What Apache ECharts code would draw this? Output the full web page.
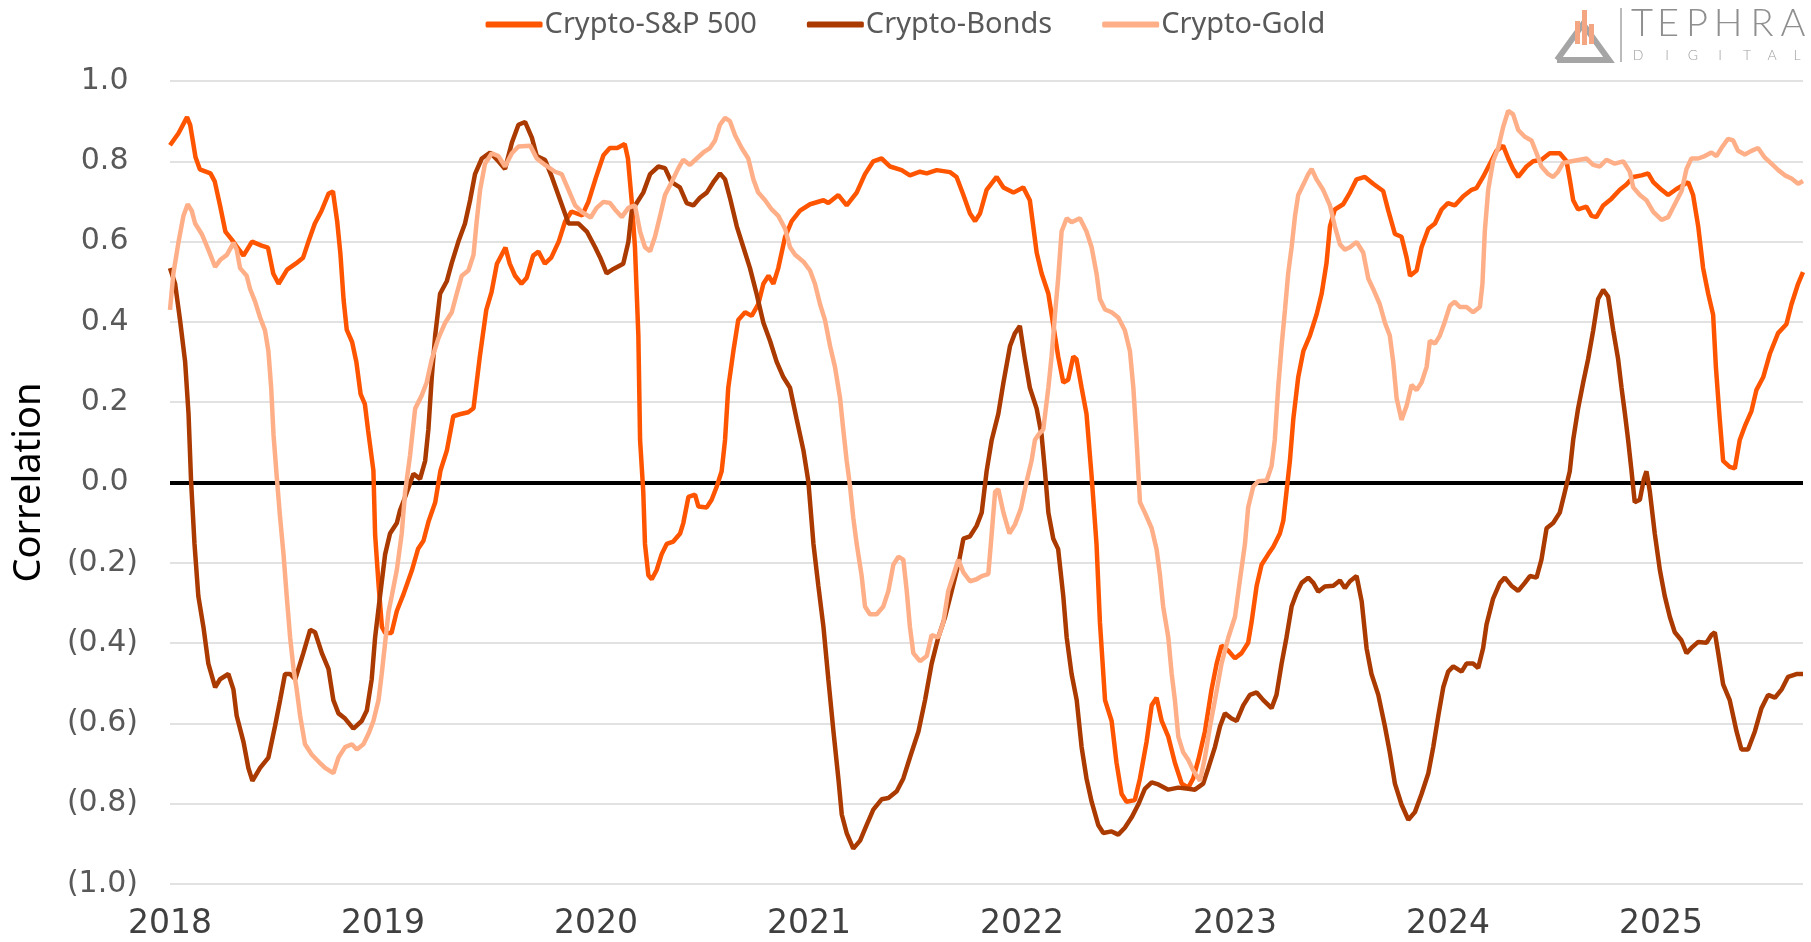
<!DOCTYPE html>
<html>
<head>
<meta charset="utf-8">
<script src="https://cdn.jsdelivr.net/npm/echarts@6/dist/echarts.min.js"></script>
<style>
  html, body { margin: 0; padding: 0; background: #fff; }
  #chart { width: 1811px; height: 942px; }
</style>
</head>
<body>
<div id="chart"></div>
<script>
// rolling correlations, x = decimal year
const spxT = [2018.00, 2018.04, 2018.08, 2018.095, 2018.12, 2018.14, 2018.19, 2018.21, 2018.235, 2018.26, 2018.29, 2018.31, 2018.345, 2018.385, 2018.43, 2018.46, 2018.485, 2018.51, 2018.55, 2018.59, 2018.625, 2018.65, 2018.68, 2018.71, 2018.745, 2018.765, 2018.785, 2018.80, 2018.815, 2018.83, 2018.855, 2018.875, 2018.895, 2018.915, 2018.93, 2018.955, 2018.963, 2018.98, 2018.995, 2019.01, 2019.04, 2019.065, 2019.095, 2019.135, 2019.165, 2019.19, 2019.215, 2019.245, 2019.27, 2019.30, 2019.33, 2019.36, 2019.40, 2019.425, 2019.455, 2019.485, 2019.51, 2019.535, 2019.575, 2019.595, 2019.62, 2019.65, 2019.675, 2019.705, 2019.73, 2019.76, 2019.79, 2019.825, 2019.855, 2019.885, 2019.935, 2019.965, 2020.00, 2020.035, 2020.065, 2020.10, 2020.135, 2020.15, 2020.168, 2020.183, 2020.199, 2020.207, 2020.222, 2020.23, 2020.246, 2020.262, 2020.285, 2020.308, 2020.332, 2020.363, 2020.395, 2020.41, 2020.434, 2020.465, 2020.481, 2020.52, 2020.543, 2020.567, 2020.59, 2020.606, 2020.621, 2020.645, 2020.668, 2020.70, 2020.731, 2020.762, 2020.786, 2020.81, 2020.833, 2020.856, 2020.888, 2020.919, 2020.958, 2021.005, 2021.068, 2021.091, 2021.138, 2021.177, 2021.224, 2021.263, 2021.302, 2021.341, 2021.381, 2021.435, 2021.474, 2021.521, 2021.553, 2021.60, 2021.662, 2021.693, 2021.725, 2021.756, 2021.78, 2021.803, 2021.834, 2021.881, 2021.913, 2021.96, 2022.006, 2022.037, 2022.053, 2022.069, 2022.092, 2022.124, 2022.147, 2022.17, 2022.194, 2022.217, 2022.241, 2022.256, 2022.28, 2022.303, 2022.327, 2022.35, 2022.366, 2022.39, 2022.421, 2022.444, 2022.468, 2022.491, 2022.53, 2022.554, 2022.585, 2022.609, 2022.632, 2022.656, 2022.687, 2022.718, 2022.75, 2022.781, 2022.804, 2022.828, 2022.859, 2022.89, 2022.914, 2022.937, 2022.969, 2023.00, 2023.031, 2023.062, 2023.078, 2023.102, 2023.125, 2023.156, 2023.18, 2023.211, 2023.227, 2023.242, 2023.258, 2023.274, 2023.297, 2023.321, 2023.352, 2023.383, 2023.407, 2023.43, 2023.446, 2023.469, 2023.508, 2023.54, 2023.571, 2023.61, 2023.649, 2023.696, 2023.72, 2023.751, 2023.782, 2023.806, 2023.822, 2023.853, 2023.876, 2023.908, 2023.939, 2023.97, 2024.00, 2024.032, 2024.072, 2024.111, 2024.134, 2024.165, 2024.197, 2024.228, 2024.259, 2024.283, 2024.306, 2024.33, 2024.369, 2024.40, 2024.439, 2024.478, 2024.525, 2024.557, 2024.572, 2024.588, 2024.611, 2024.65, 2024.674, 2024.697, 2024.729, 2024.768, 2024.807, 2024.838, 2024.87, 2024.909, 2024.94, 2024.964, 2025.003, 2025.034, 2025.073, 2025.128, 2025.151, 2025.175, 2025.198, 2025.222, 2025.245, 2025.258, 2025.276, 2025.292, 2025.323, 2025.347, 2025.37, 2025.393, 2025.425, 2025.448, 2025.48, 2025.511, 2025.55, 2025.589, 2025.613, 2025.644, 2025.667];
const spxV = [0.84, 0.87, 0.91, 0.89, 0.81, 0.78, 0.77, 0.75, 0.69, 0.625, 0.605, 0.59, 0.565, 0.60, 0.59, 0.585, 0.52, 0.495, 0.53, 0.545, 0.56, 0.60, 0.645, 0.675, 0.72, 0.725, 0.65, 0.57, 0.455, 0.38, 0.35, 0.30, 0.22, 0.195, 0.13, 0.03, -0.13, -0.26, -0.36, -0.375, -0.375, -0.32, -0.28, -0.22, -0.165, -0.145, -0.095, -0.05, 0.03, 0.08, 0.165, 0.17, 0.175, 0.185, 0.315, 0.43, 0.475, 0.545, 0.585, 0.545, 0.515, 0.495, 0.51, 0.565, 0.575, 0.545, 0.56, 0.60, 0.65, 0.675, 0.665, 0.70, 0.76, 0.815, 0.833, 0.833, 0.843, 0.807, 0.70, 0.586, 0.366, 0.106, -0.023, -0.153, -0.231, -0.241, -0.218, -0.179, -0.153, -0.147, -0.127, -0.101, -0.036, -0.03, -0.06, -0.062, -0.043, -0.01, 0.028, 0.106, 0.236, 0.327, 0.405, 0.424, 0.415, 0.444, 0.495, 0.515, 0.495, 0.534, 0.612, 0.651, 0.677, 0.693, 0.703, 0.696, 0.716, 0.69, 0.722, 0.768, 0.80, 0.807, 0.787, 0.778, 0.765, 0.774, 0.77, 0.778, 0.773, 0.761, 0.716, 0.67, 0.651, 0.67, 0.729, 0.761, 0.735, 0.722, 0.735, 0.703, 0.638, 0.573, 0.521, 0.47, 0.392, 0.314, 0.249, 0.256, 0.314, 0.307, 0.236, 0.171, 0.016, -0.153, -0.348, -0.542, -0.594, -0.698, -0.776, -0.795, -0.791, -0.737, -0.646, -0.555, -0.536, -0.594, -0.633, -0.698, -0.75, -0.76, -0.737, -0.691, -0.62, -0.516, -0.451, -0.406, -0.419, -0.438, -0.425, -0.399, -0.348, -0.257, -0.205, -0.179, -0.16, -0.127, -0.095, -0.023, 0.054, 0.158, 0.262, 0.327, 0.366, 0.418, 0.47, 0.547, 0.638, 0.68, 0.693, 0.722, 0.755, 0.761, 0.744, 0.726, 0.677, 0.619, 0.612, 0.56, 0.515, 0.528, 0.586, 0.632, 0.645, 0.68, 0.696, 0.69, 0.713, 0.729, 0.733, 0.761, 0.794, 0.826, 0.839, 0.807, 0.781, 0.761, 0.787, 0.80, 0.804, 0.82, 0.82, 0.80, 0.755, 0.703, 0.68, 0.687, 0.664, 0.661, 0.69, 0.707, 0.729, 0.742, 0.761, 0.765, 0.77, 0.748, 0.729, 0.716, 0.731, 0.748, 0.716, 0.638, 0.534, 0.47, 0.418, 0.288, 0.158, 0.054, 0.039, 0.035, 0.106, 0.139, 0.178, 0.23, 0.262, 0.32, 0.372, 0.394, 0.444, 0.495, 0.524];

const bondT = [2018.00, 2018.024, 2018.047, 2018.071, 2018.087, 2018.099, 2018.115, 2018.133, 2018.157, 2018.18, 2018.212, 2018.235, 2018.274, 2018.298, 2018.313, 2018.345, 2018.368, 2018.387, 2018.423, 2018.462, 2018.493, 2018.517, 2018.54, 2018.564, 2018.588, 2018.626, 2018.658, 2018.681, 2018.713, 2018.744, 2018.767, 2018.791, 2018.822, 2018.861, 2018.90, 2018.924, 2018.947, 2018.963, 2018.986, 2019.01, 2019.033, 2019.065, 2019.08, 2019.104, 2019.143, 2019.174, 2019.198, 2019.213, 2019.229, 2019.245, 2019.268, 2019.30, 2019.323, 2019.354, 2019.385, 2019.409, 2019.432, 2019.464, 2019.503, 2019.542, 2019.573, 2019.605, 2019.636, 2019.667, 2019.699, 2019.722, 2019.761, 2019.793, 2019.832, 2019.871, 2019.918, 2019.957, 2019.996, 2020.02, 2020.05, 2020.082, 2020.128, 2020.152, 2020.168, 2020.191, 2020.222, 2020.254, 2020.293, 2020.324, 2020.355, 2020.394, 2020.426, 2020.457, 2020.488, 2020.52, 2020.551, 2020.582, 2020.606, 2020.629, 2020.661, 2020.692, 2020.723, 2020.754, 2020.786, 2020.817, 2020.848, 2020.88, 2020.911, 2020.942, 2020.974, 2020.997, 2021.021, 2021.044, 2021.068, 2021.091, 2021.115, 2021.138, 2021.154, 2021.177, 2021.208, 2021.24, 2021.271, 2021.302, 2021.341, 2021.373, 2021.412, 2021.443, 2021.474, 2021.514, 2021.545, 2021.576, 2021.607, 2021.639, 2021.67, 2021.701, 2021.725, 2021.756, 2021.787, 2021.811, 2021.834, 2021.858, 2021.889, 2021.913, 2021.944, 2021.967, 2021.99, 2022.014, 2022.037, 2022.069, 2022.092, 2022.108, 2022.124, 2022.147, 2022.17, 2022.194, 2022.21, 2022.233, 2022.257, 2022.28, 2022.303, 2022.327, 2022.358, 2022.382, 2022.421, 2022.452, 2022.483, 2022.515, 2022.546, 2022.577, 2022.609, 2022.64, 2022.687, 2022.734, 2022.781, 2022.812, 2022.851, 2022.875, 2022.906, 2022.93, 2022.953, 2022.984, 2023.008, 2023.039, 2023.07, 2023.102, 2023.133, 2023.172, 2023.195, 2023.219, 2023.242, 2023.266, 2023.289, 2023.313, 2023.344, 2023.368, 2023.391, 2023.422, 2023.462, 2023.493, 2023.516, 2023.54, 2023.571, 2023.595, 2023.618, 2023.641, 2023.673, 2023.704, 2023.727, 2023.751, 2023.782, 2023.814, 2023.845, 2023.876, 2023.908, 2023.931, 2023.955, 2023.978, 2024.001, 2024.025, 2024.064, 2024.087, 2024.118, 2024.142, 2024.165, 2024.181, 2024.212, 2024.244, 2024.267, 2024.298, 2024.33, 2024.361, 2024.385, 2024.416, 2024.439, 2024.463, 2024.494, 2024.525, 2024.549, 2024.572, 2024.588, 2024.611, 2024.635, 2024.658, 2024.682, 2024.705, 2024.729, 2024.752, 2024.776, 2024.799, 2024.815, 2024.831, 2024.846, 2024.862, 2024.877, 2024.901, 2024.92, 2024.932, 2024.948, 2024.971, 2024.995, 2025.018, 2025.042, 2025.065, 2025.096, 2025.12, 2025.143, 2025.175, 2025.214, 2025.237, 2025.253, 2025.269, 2025.292, 2025.323, 2025.355, 2025.378, 2025.409, 2025.441, 2025.472, 2025.503, 2025.535, 2025.566, 2025.597, 2025.636, 2025.667];
const bondV = [0.534, 0.495, 0.405, 0.301, 0.171, 0.003, -0.153, -0.283, -0.36, -0.451, -0.51, -0.49, -0.477, -0.516, -0.581, -0.646, -0.711, -0.743, -0.711, -0.685, -0.607, -0.542, -0.477, -0.477, -0.49, -0.425, -0.367, -0.373, -0.425, -0.464, -0.542, -0.575, -0.588, -0.613, -0.594, -0.568, -0.49, -0.386, -0.283, -0.179, -0.127, -0.101, -0.069, -0.036, 0.022, 0.009, 0.054, 0.132, 0.262, 0.366, 0.47, 0.502, 0.547, 0.60, 0.645, 0.703, 0.768, 0.807, 0.822, 0.80, 0.781, 0.846, 0.891, 0.898, 0.859, 0.813, 0.803, 0.761, 0.703, 0.645, 0.645, 0.625, 0.586, 0.56, 0.521, 0.532, 0.545, 0.599, 0.677, 0.696, 0.722, 0.768, 0.787, 0.783, 0.748, 0.735, 0.696, 0.69, 0.709, 0.722, 0.748, 0.77, 0.755, 0.709, 0.638, 0.586, 0.534, 0.47, 0.398, 0.353, 0.301, 0.262, 0.236, 0.158, 0.08, 0.003, -0.153, -0.257, -0.36, -0.49, -0.62, -0.737, -0.827, -0.873, -0.912, -0.892, -0.853, -0.815, -0.789, -0.786, -0.769, -0.737, -0.685, -0.62, -0.542, -0.451, -0.386, -0.335, -0.27, -0.205, -0.14, -0.134, -0.108, -0.075, 0.028, 0.106, 0.171, 0.249, 0.34, 0.372, 0.39, 0.307, 0.236, 0.184, 0.119, 0.028, -0.075, -0.14, -0.166, -0.283, -0.386, -0.477, -0.542, -0.659, -0.737, -0.795, -0.853, -0.873, -0.869, -0.877, -0.86, -0.834, -0.802, -0.763, -0.747, -0.752, -0.765, -0.76, -0.763, -0.765, -0.75, -0.711, -0.659, -0.607, -0.575, -0.588, -0.594, -0.555, -0.529, -0.523, -0.542, -0.562, -0.529, -0.451, -0.386, -0.309, -0.276, -0.25, -0.237, -0.25, -0.272, -0.259, -0.257, -0.244, -0.263, -0.246, -0.233, -0.296, -0.413, -0.477, -0.529, -0.607, -0.672, -0.75, -0.802, -0.84, -0.821, -0.776, -0.724, -0.659, -0.58, -0.51, -0.471, -0.458, -0.471, -0.451, -0.451, -0.462, -0.413, -0.354, -0.289, -0.25, -0.237, -0.257, -0.27, -0.25, -0.233, -0.237, -0.192, -0.114, -0.101, -0.075, -0.023, 0.028, 0.106, 0.184, 0.249, 0.307, 0.379, 0.457, 0.48, 0.463, 0.379, 0.307, 0.236, 0.171, 0.106, 0.028, -0.049, -0.043, 0.009, 0.028, -0.023, -0.127, -0.218, -0.283, -0.335, -0.373, -0.393, -0.425, -0.412, -0.397, -0.399, -0.38, -0.373, -0.425, -0.503, -0.542, -0.62, -0.665, -0.665, -0.62, -0.562, -0.529, -0.536, -0.516, -0.484, -0.477, -0.477];

const goldT = [2018.00, 2018.016, 2018.04, 2018.063, 2018.083, 2018.102, 2018.118, 2018.149, 2018.18, 2018.212, 2018.235, 2018.267, 2018.298, 2018.313, 2018.329, 2018.36, 2018.376, 2018.40, 2018.423, 2018.446, 2018.462, 2018.475, 2018.486, 2018.501, 2018.517, 2018.533, 2018.548, 2018.564, 2018.58, 2018.595, 2018.611, 2018.634, 2018.666, 2018.697, 2018.728, 2018.767, 2018.791, 2018.822, 2018.854, 2018.877, 2018.908, 2018.932, 2018.955, 2018.979, 2018.994, 2019.01, 2019.026, 2019.041, 2019.065, 2019.088, 2019.104, 2019.127, 2019.151, 2019.182, 2019.205, 2019.229, 2019.26, 2019.292, 2019.323, 2019.346, 2019.37, 2019.401, 2019.425, 2019.44, 2019.456, 2019.479, 2019.511, 2019.542, 2019.573, 2019.605, 2019.636, 2019.691, 2019.722, 2019.761, 2019.808, 2019.839, 2019.871, 2019.902, 2019.933, 2019.975, 2020.003, 2020.035, 2020.066, 2020.089, 2020.121, 2020.152, 2020.183, 2020.207, 2020.23, 2020.254, 2020.277, 2020.301, 2020.324, 2020.355, 2020.387, 2020.41, 2020.441, 2020.473, 2020.504, 2020.535, 2020.559, 2020.582, 2020.606, 2020.629, 2020.653, 2020.684, 2020.715, 2020.739, 2020.762, 2020.794, 2020.825, 2020.856, 2020.888, 2020.911, 2020.935, 2020.974, 2021.005, 2021.028, 2021.052, 2021.075, 2021.099, 2021.122, 2021.146, 2021.161, 2021.177, 2021.193, 2021.208, 2021.224, 2021.247, 2021.263, 2021.286, 2021.318, 2021.349, 2021.373, 2021.396, 2021.42, 2021.443, 2021.459, 2021.474, 2021.49, 2021.521, 2021.553, 2021.576, 2021.607, 2021.631, 2021.654, 2021.678, 2021.701, 2021.725, 2021.756, 2021.787, 2021.811, 2021.842, 2021.858, 2021.874, 2021.889, 2021.913, 2021.941, 2021.967, 2021.995, 2022.022, 2022.045, 2022.061, 2022.077, 2022.10, 2022.124, 2022.139, 2022.155, 2022.17, 2022.186, 2022.21, 2022.233, 2022.272, 2022.303, 2022.327, 2022.35, 2022.366, 2022.39, 2022.421, 2022.452, 2022.483, 2022.507, 2022.523, 2022.538, 2022.554, 2022.577, 2022.609, 2022.632, 2022.648, 2022.663, 2022.687, 2022.703, 2022.718, 2022.734, 2022.757, 2022.781, 2022.804, 2022.836, 2022.859, 2022.883, 2022.906, 2022.937, 2022.969, 2023.00, 2023.023, 2023.047, 2023.062, 2023.086, 2023.109, 2023.149, 2023.172, 2023.187, 2023.203, 2023.219, 2023.235, 2023.25, 2023.266, 2023.282, 2023.297, 2023.321, 2023.344, 2023.36, 2023.383, 2023.414, 2023.446, 2023.469, 2023.493, 2023.516, 2023.54, 2023.571, 2023.602, 2023.626, 2023.649, 2023.68, 2023.704, 2023.727, 2023.743, 2023.759, 2023.782, 2023.806, 2023.829, 2023.853, 2023.876, 2023.90, 2023.915, 2023.939, 2023.962, 2023.985, 2024.009, 2024.032, 2024.056, 2024.087, 2024.118, 2024.15, 2024.162, 2024.173, 2024.189, 2024.212, 2024.236, 2024.259, 2024.283, 2024.306, 2024.33, 2024.361, 2024.392, 2024.416, 2024.439, 2024.471, 2024.494, 2024.517, 2024.541, 2024.58, 2024.619, 2024.65, 2024.682, 2024.713, 2024.744, 2024.783, 2024.823, 2024.854, 2024.87, 2024.901, 2024.932, 2024.964, 2025.003, 2025.034, 2025.065, 2025.097, 2025.12, 2025.143, 2025.175, 2025.206, 2025.237, 2025.261, 2025.284, 2025.315, 2025.339, 2025.362, 2025.394, 2025.425, 2025.456, 2025.488, 2025.519, 2025.551, 2025.582, 2025.613, 2025.644, 2025.667];
const goldV = [0.43, 0.521, 0.599, 0.664, 0.693, 0.677, 0.645, 0.619, 0.58, 0.537, 0.554, 0.567, 0.597, 0.58, 0.534, 0.515, 0.482, 0.45, 0.411, 0.379, 0.327, 0.236, 0.119, 0.016, -0.088, -0.179, -0.283, -0.386, -0.464, -0.516, -0.581, -0.652, -0.678, -0.695, -0.711, -0.724, -0.685, -0.659, -0.652, -0.665, -0.652, -0.626, -0.594, -0.542, -0.477, -0.399, -0.322, -0.283, -0.218, -0.127, -0.023, 0.067, 0.184, 0.217, 0.249, 0.307, 0.359, 0.398, 0.424, 0.47, 0.515, 0.528, 0.567, 0.651, 0.729, 0.794, 0.82, 0.813, 0.787, 0.82, 0.837, 0.839, 0.807, 0.791, 0.774, 0.768, 0.729, 0.69, 0.674, 0.66, 0.684, 0.699, 0.696, 0.68, 0.661, 0.684, 0.69, 0.625, 0.586, 0.576, 0.612, 0.664, 0.716, 0.748, 0.783, 0.804, 0.791, 0.807, 0.822, 0.833, 0.852, 0.891, 0.908, 0.90, 0.865, 0.833, 0.807, 0.755, 0.722, 0.703, 0.68, 0.664, 0.632, 0.586, 0.567, 0.55, 0.528, 0.495, 0.444, 0.405, 0.34, 0.288, 0.21, 0.132, 0.054, -0.01, -0.088, -0.153, -0.231, -0.309, -0.328, -0.328, -0.309, -0.27, -0.205, -0.185, -0.192, -0.27, -0.36, -0.425, -0.445, -0.432, -0.38, -0.386, -0.348, -0.27, -0.231, -0.192, -0.224, -0.246, -0.241, -0.233, -0.228, -0.127, -0.023, -0.017, -0.075, -0.127, -0.105, -0.065, 0.003, 0.054, 0.106, 0.119, 0.132, 0.236, 0.314, 0.418, 0.508, 0.625, 0.658, 0.648, 0.658, 0.625, 0.586, 0.521, 0.457, 0.431, 0.424, 0.411, 0.379, 0.327, 0.236, 0.106, -0.049, -0.075, -0.114, -0.166, -0.231, -0.309, -0.386, -0.477, -0.542, -0.633, -0.672, -0.691, -0.717, -0.743, -0.685, -0.607, -0.542, -0.451, -0.386, -0.335, -0.244, -0.153, -0.062, -0.01, 0.003, 0.005, 0.041, 0.106, 0.236, 0.34, 0.431, 0.521, 0.586, 0.664, 0.716, 0.742, 0.768, 0.781, 0.755, 0.729, 0.69, 0.638, 0.593, 0.58, 0.586, 0.599, 0.573, 0.508, 0.482, 0.444, 0.398, 0.366, 0.301, 0.21, 0.156, 0.191, 0.243, 0.23, 0.249, 0.288, 0.353, 0.346, 0.366, 0.4, 0.44, 0.45, 0.437, 0.437, 0.424, 0.437, 0.495, 0.625, 0.729, 0.80, 0.833, 0.885, 0.926, 0.917, 0.878, 0.861, 0.852, 0.82, 0.787, 0.768, 0.761, 0.774, 0.796, 0.80, 0.804, 0.807, 0.791, 0.787, 0.804, 0.794, 0.80, 0.774, 0.735, 0.716, 0.703, 0.674, 0.654, 0.661, 0.693, 0.726, 0.781, 0.807, 0.807, 0.813, 0.822, 0.813, 0.833, 0.856, 0.852, 0.826, 0.817, 0.826, 0.833, 0.809, 0.794, 0.778, 0.765, 0.757, 0.744, 0.751];

const seriesNames = ['Crypto-S&P 500', 'Crypto-Bonds', 'Crypto-Gold'];
const seriesColors = ['#ff5500', '#ab3a00', '#ffaf88'];
const yearTicks = [2018, 2019, 2020, 2021, 2022, 2023, 2024, 2025];

const zip = (t, v) => t.map((x, i) => [x, v[i]]);
const lines = [zip(spxT, spxV), zip(bondT, bondV), zip(goldT, goldV)];

const chart = echarts.init(document.getElementById('chart'), null, { renderer: 'canvas' });

const fmtY = v => {
  const s = Math.abs(v).toFixed(1);
  return v < -1e-9 ? '(' + s + ')' : s + ' ';
};

// logo letters
const logoTop = 'TEPHRA'.split('');
const logoTopX = [1642, 1668, 1697, 1728, 1762, 1793];
const logoBottom = 'DIGITAL'.split('');
const logoBottomX = [1638, 1667, 1693, 1720, 1747, 1772, 1797];

const graphics = [
  {
    type: 'polyline',
    shape: { points: [[1557, 60], [1583, 24], [1609, 60], [1557, 60]] },
    style: { stroke: '#a5a5a5', lineWidth: 6, fill: null, lineJoin: 'miter' }
  },
  { type: 'rect', shape: { x: 1575, y: 21, width: 5, height: 23 }, style: { fill: '#f4a582' } },
  { type: 'rect', shape: { x: 1582, y: 10, width: 5, height: 35 }, style: { fill: '#f4a582' } },
  { type: 'rect', shape: { x: 1589, y: 24, width: 5, height: 20 }, style: { fill: '#f4a582' } },
  { type: 'line', shape: { x1: 1621, y1: 8, x2: 1621, y2: 62 }, style: { stroke: '#a5a5a5', lineWidth: 1.5 } }
];
logoTop.forEach((ch, i) => graphics.push({
  type: 'text', x: logoTopX[i], y: 24,
  style: { text: ch, fill: '#8f8f8f', font: '300 38px Lato, "Open Sans", sans-serif', align: 'center', verticalAlign: 'middle' }
}));
logoBottom.forEach((ch, i) => graphics.push({
  type: 'text', x: logoBottomX[i], y: 55,
  style: { text: ch, fill: '#a0a0a0', font: '300 14px Lato, "Open Sans", sans-serif', align: 'center', verticalAlign: 'middle' }
}));

chart.setOption({
  animation: false,
  backgroundColor: '#fff',
  color: seriesColors,
  grid: { left: 170, right: 8, top: 81, bottom: 58 },
  legend: {
    top: 5,
    left: 'center',
    itemWidth: 57,
    itemHeight: 6,
    itemGap: 50,
    icon: 'roundRect',
    textStyle: { fontSize: 29, fontFamily: 'Noto Sans', color: '#595959', padding: [0, 0, 0, -3] },
    data: seriesNames
  },
  xAxis: {
    type: 'value',
    min: 2018,
    max: 2025.667,
    interval: 1,
    axisLine: { show: false },
    axisTick: { show: false },
    splitLine: { show: false },
    axisLabel: {
      margin: 24,
      fontSize: 33,
      fontFamily: 'DejaVu Sans',
      color: '#404040',
      showMaxLabel: false,
      formatter: v => (yearTicks.includes(Math.round(v * 1000) / 1000) ? String(Math.round(v)) : '')
    }
  },
  yAxis: {
    type: 'value',
    min: -1,
    max: 1,
    interval: 0.2,
    name: 'Correlation',
    nameLocation: 'middle',
    nameRotate: 90,
    nameGap: 122,
    nameTextStyle: { fontSize: 38, fontFamily: 'Noto Sans', color: '#000' },
    axisLine: { show: false },
    axisTick: { show: false },
    splitLine: { lineStyle: { color: '#d9d9d9', width: 1.5 } },
    axisLabel: { margin: 32, fontSize: 30, fontFamily: 'DejaVu Sans', color: '#595959', formatter: fmtY }
  },
  graphic: graphics,
  series: lines.map((d, i) => ({
    name: seriesNames[i],
    type: 'line',
    data: d,
    showSymbol: false,
    symbol: 'none',
    smooth: false,
    lineStyle: { width: 4.5, color: seriesColors[i] },
    z: 3 + i,
    markLine: i === 0 ? {
      silent: true,
      symbol: 'none',
      label: { show: false },
      lineStyle: { color: '#000', width: 4, type: 'solid' },
      data: [{ yAxis: 0 }],
      z: 2
    } : undefined
  }))
});
</script>
</body>
</html>
